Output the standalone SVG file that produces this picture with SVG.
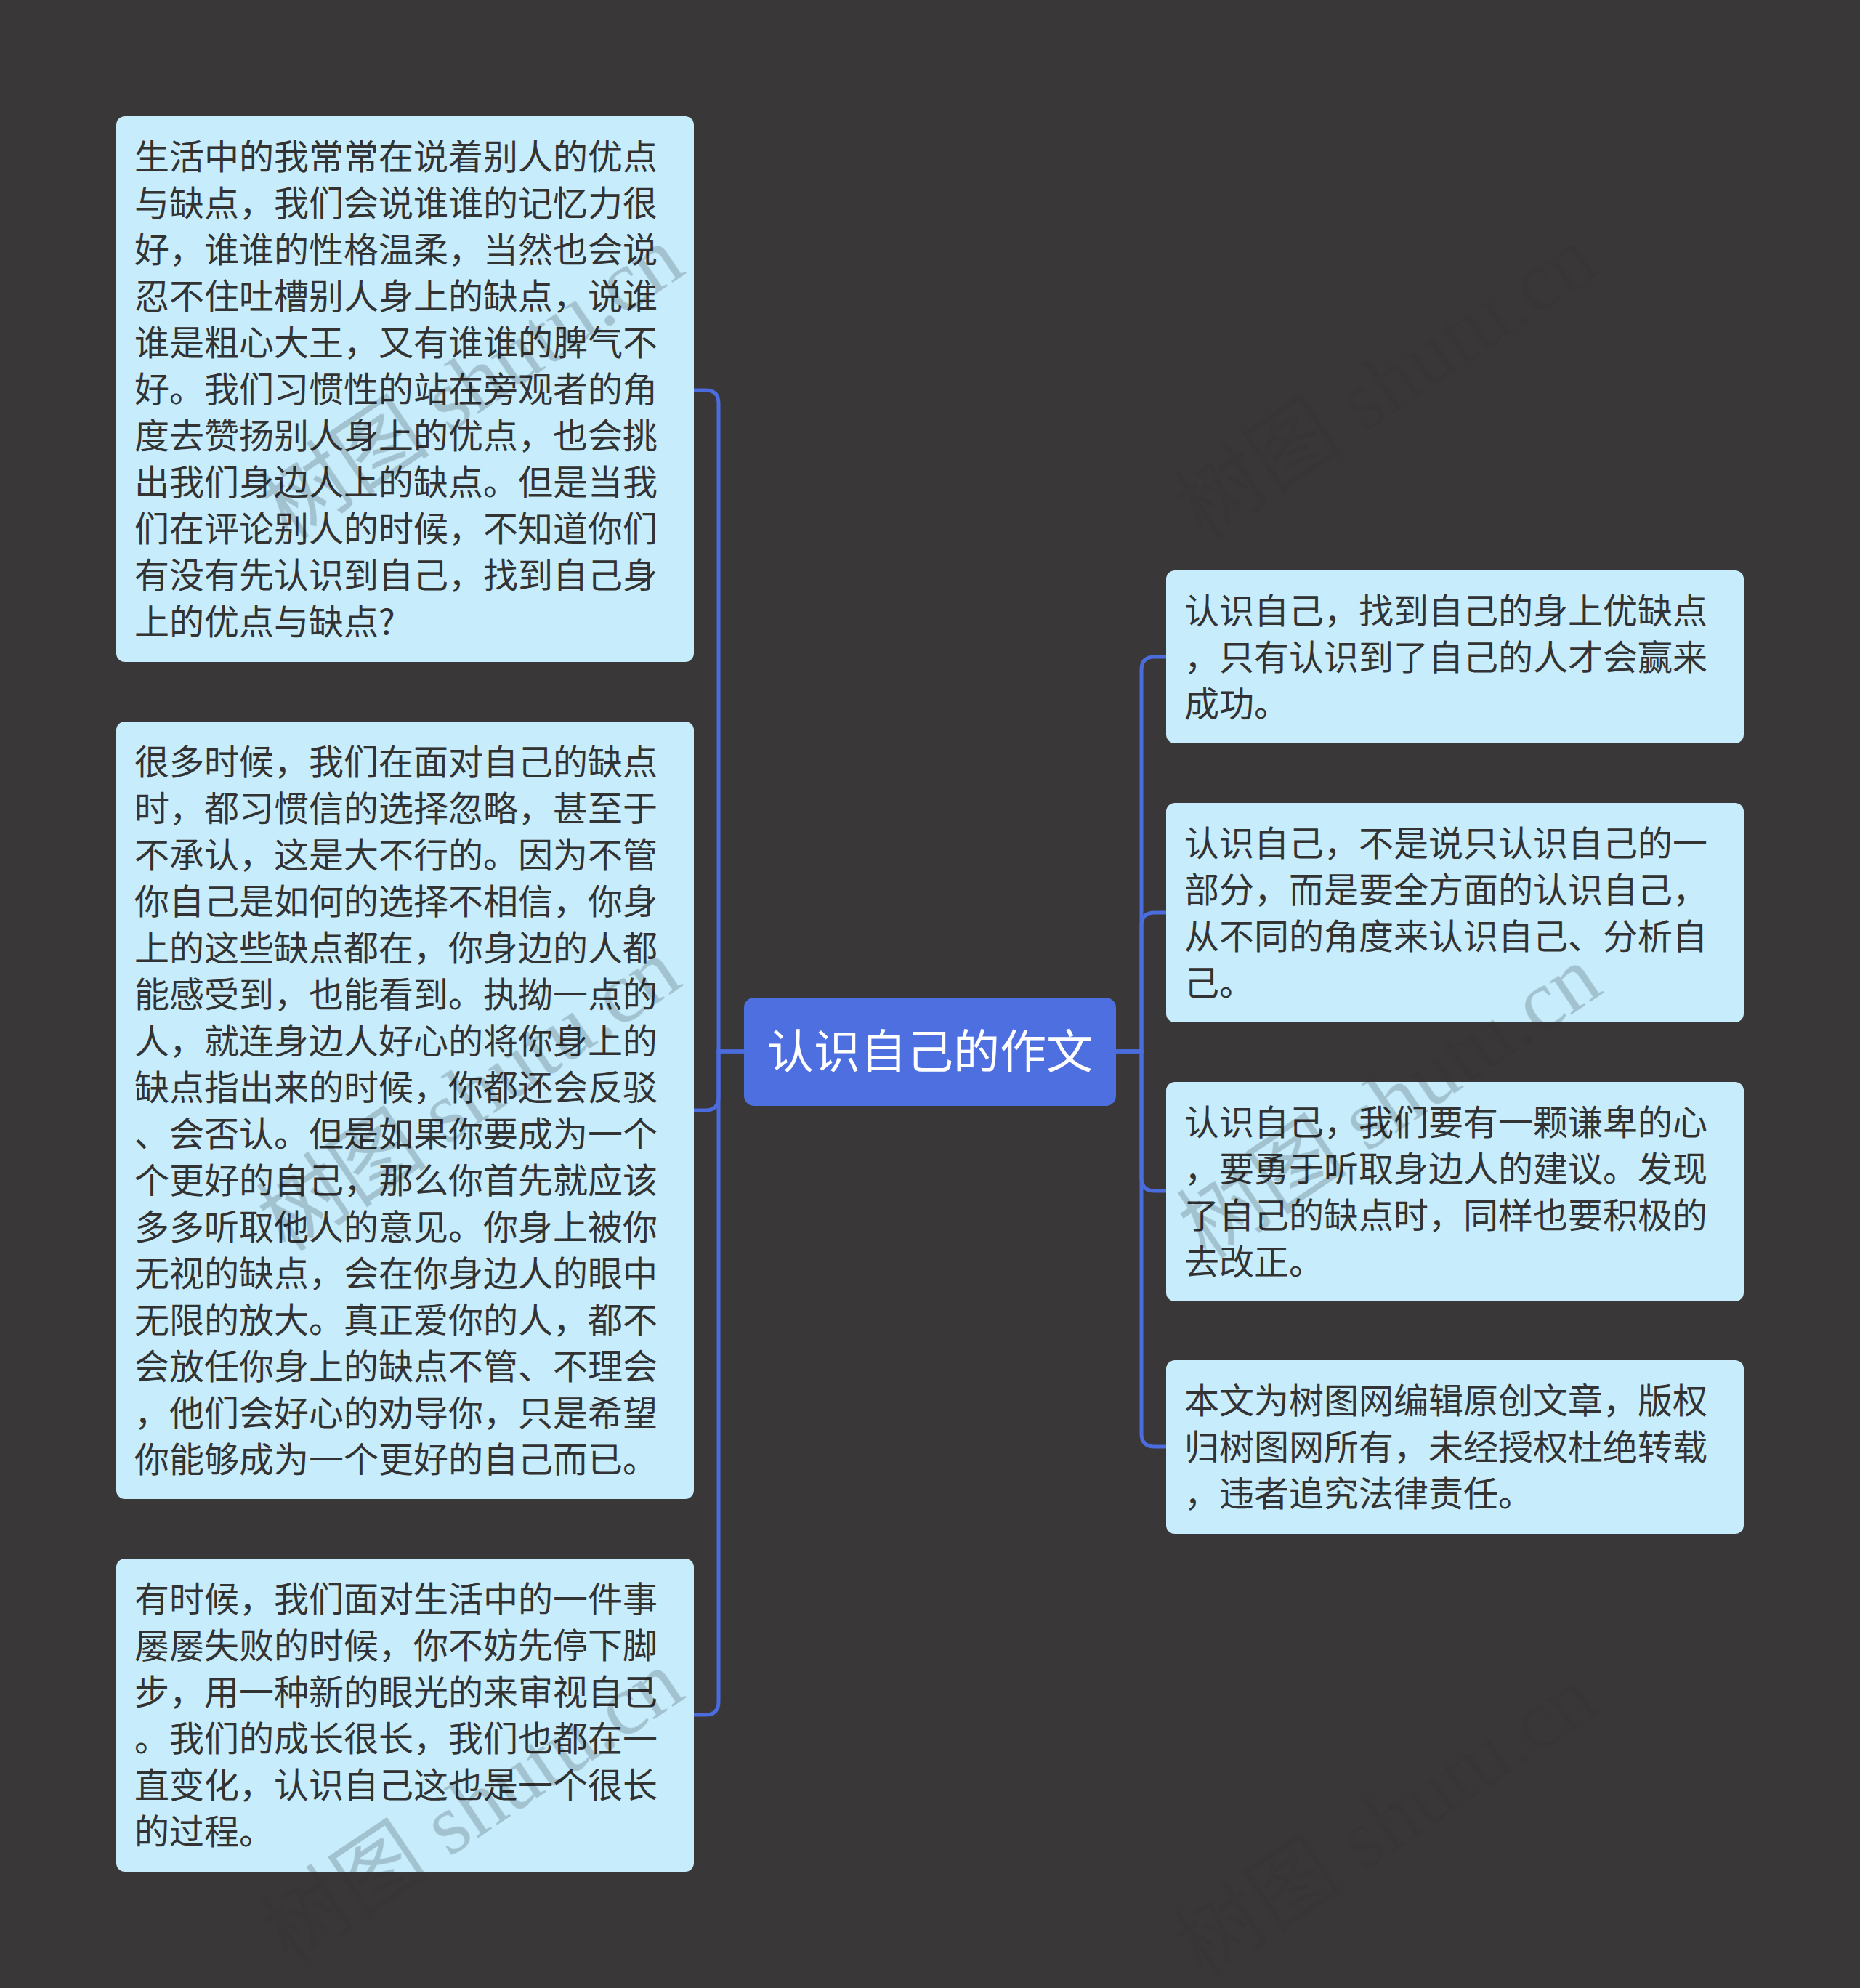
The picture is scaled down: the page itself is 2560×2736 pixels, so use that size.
<svg xmlns="http://www.w3.org/2000/svg" width="2560" height="2736" viewBox="0 0 2560 2736">
<defs>
<style>
.bg{fill:#393738}
.box{fill:#c7edfd}
.t{font-family:"Noto Sans CJK SC","Noto Sans",sans-serif;font-size:48px;fill:#333333}
.ct{font-family:"Noto Sans CJK SC","Noto Sans",sans-serif;font-size:64px;fill:#ffffff}
.cn{fill:#4e6fe0}
.ln{fill:none;stroke:#4a6cdd;stroke-width:5}
.wm{font-family:"Liberation Serif","Noto Sans CJK SC",serif;font-size:118px;fill:#000000;fill-opacity:0.16}
.wmd{font-family:"Liberation Serif","Noto Sans CJK SC",serif;font-size:118px;fill:#000000;fill-opacity:0.025}
</style>
<mask id="boxmask">
<rect x="0" y="0" width="2560" height="2736" fill="#000"/>
<rect x="160" y="160" width="795" height="751" rx="12" fill="#fff"/>
<rect x="160" y="993" width="795" height="1070" rx="12" fill="#fff"/>
<rect x="160" y="2145" width="795" height="431" rx="12" fill="#fff"/>
<rect x="1605" y="785" width="795" height="238" rx="12" fill="#fff"/>
<rect x="1605" y="1105" width="795" height="302" rx="12" fill="#fff"/>
<rect x="1605" y="1489" width="795" height="302" rx="12" fill="#fff"/>
<rect x="1605" y="1872" width="795" height="239" rx="12" fill="#fff"/>
</mask>
</defs>
<rect class="bg" x="0" y="0" width="2560" height="2736"/>

<g id="connectors">
<path class="ln" d="M1024,1447 H989 V555 Q989,537 971,537 H955"/>
<path class="ln" d="M1024,1447 H989 V1510 Q989,1528 971,1528 H955"/>
<path class="ln" d="M1024,1447 H989 V2342 Q989,2360 971,2360 H955"/>
<path class="ln" d="M1536,1447 H1571 V922 Q1571,904 1589,904 H1605"/>
<path class="ln" d="M1536,1447 H1571 V1274 Q1571,1256 1589,1256 H1605"/>
<path class="ln" d="M1536,1447 H1571 V1621 Q1571,1639 1589,1639 H1605"/>
<path class="ln" d="M1536,1447 H1571 V1973 Q1571,1991 1589,1991 H1605"/>
</g>

<g id="center">
<rect class="cn" x="1024" y="1373" width="512" height="149" rx="14"/>
<text class="ct" x="1280" y="1470" text-anchor="middle">认识自己的作文</text>
</g>

<g id="left1">
<rect class="box" x="160" y="160" width="795" height="751" rx="12"/>
<text class="t">
<tspan x="185" y="233">生活中的我常常在说着别人的优点</tspan>
<tspan x="185" y="297">与缺点，我们会说谁谁的记忆力很</tspan>
<tspan x="185" y="361">好，谁谁的性格温柔，当然也会说</tspan>
<tspan x="185" y="425">忍不住吐槽别人身上的缺点，说谁</tspan>
<tspan x="185" y="489">谁是粗心大王，又有谁谁的脾气不</tspan>
<tspan x="185" y="553">好。我们习惯性的站在旁观者的角</tspan>
<tspan x="185" y="617">度去赞扬别人身上的优点，也会挑</tspan>
<tspan x="185" y="681">出我们身边人上的缺点。但是当我</tspan>
<tspan x="185" y="745">们在评论别人的时候，不知道你们</tspan>
<tspan x="185" y="809">有没有先认识到自己，找到自己身</tspan>
<tspan x="185" y="873">上的优点与缺点?</tspan>
</text>
</g>

<g id="left2">
<rect class="box" x="160" y="993" width="795" height="1070" rx="12"/>
<text class="t">
<tspan x="185" y="1066">很多时候，我们在面对自己的缺点</tspan>
<tspan x="185" y="1130">时，都习惯信的选择忽略，甚至于</tspan>
<tspan x="185" y="1194">不承认，这是大不行的。因为不管</tspan>
<tspan x="185" y="1258">你自己是如何的选择不相信，你身</tspan>
<tspan x="185" y="1322">上的这些缺点都在，你身边的人都</tspan>
<tspan x="185" y="1386">能感受到，也能看到。执拗一点的</tspan>
<tspan x="185" y="1450">人，就连身边人好心的将你身上的</tspan>
<tspan x="185" y="1514">缺点指出来的时候，你都还会反驳</tspan>
<tspan x="185" y="1578">、会否认。但是如果你要成为一个</tspan>
<tspan x="185" y="1642">个更好的自己，那么你首先就应该</tspan>
<tspan x="185" y="1706">多多听取他人的意见。你身上被你</tspan>
<tspan x="185" y="1770">无视的缺点，会在你身边人的眼中</tspan>
<tspan x="185" y="1834">无限的放大。真正爱你的人，都不</tspan>
<tspan x="185" y="1898">会放任你身上的缺点不管、不理会</tspan>
<tspan x="185" y="1962">，他们会好心的劝导你，只是希望</tspan>
<tspan x="185" y="2026">你能够成为一个更好的自己而已。</tspan>
</text>
</g>

<g id="left3">
<rect class="box" x="160" y="2145" width="795" height="431" rx="12"/>
<text class="t">
<tspan x="185" y="2218">有时候，我们面对生活中的一件事</tspan>
<tspan x="185" y="2282">屡屡失败的时候，你不妨先停下脚</tspan>
<tspan x="185" y="2346">步，用一种新的眼光的来审视自己</tspan>
<tspan x="185" y="2410">。我们的成长很长，我们也都在一</tspan>
<tspan x="185" y="2474">直变化，认识自己这也是一个很长</tspan>
<tspan x="185" y="2538">的过程。</tspan>
</text>
</g>

<g id="right1">
<rect class="box" x="1605" y="785" width="795" height="238" rx="12"/>
<text class="t">
<tspan x="1630" y="858">认识自己，找到自己的身上优缺点</tspan>
<tspan x="1630" y="922">，只有认识到了自己的人才会赢来</tspan>
<tspan x="1630" y="986">成功。</tspan>
</text>
</g>

<g id="right2">
<rect class="box" x="1605" y="1105" width="795" height="302" rx="12"/>
<text class="t">
<tspan x="1630" y="1178">认识自己，不是说只认识自己的一</tspan>
<tspan x="1630" y="1242">部分，而是要全方面的认识自己，</tspan>
<tspan x="1630" y="1306">从不同的角度来认识自己、分析自</tspan>
<tspan x="1630" y="1370">己。</tspan>
</text>
</g>

<g id="right3">
<rect class="box" x="1605" y="1489" width="795" height="302" rx="12"/>
<text class="t">
<tspan x="1630" y="1562">认识自己，我们要有一颗谦卑的心</tspan>
<tspan x="1630" y="1626">，要勇于听取身边人的建议。发现</tspan>
<tspan x="1630" y="1690">了自己的缺点时，同样也要积极的</tspan>
<tspan x="1630" y="1754">去改正。</tspan>
</text>
</g>

<g id="right4">
<rect class="box" x="1605" y="1872" width="795" height="239" rx="12"/>
<text class="t">
<tspan x="1630" y="1945">本文为树图网编辑原创文章，版权</tspan>
<tspan x="1630" y="2009">归树图网所有，未经授权杜绝转载</tspan>
<tspan x="1630" y="2073">，违者追究法律责任。</tspan>
</text>
</g>

<g id="watermarks">
<g>
<text class="wmd" text-anchor="middle" transform="translate(672,560) rotate(-34)">树图 shutu.cn</text>
<text class="wmd" text-anchor="middle" transform="translate(668,1540) rotate(-34)">树图 shutu.cn</text>
<text class="wmd" text-anchor="middle" transform="translate(672,2520) rotate(-34)">树图 shutu.cn</text>
<text class="wmd" text-anchor="middle" transform="translate(1930,560) rotate(-34)">树图 shutu.cn</text>
<text class="wmd" text-anchor="middle" transform="translate(1935,1550) rotate(-34)">树图 shutu.cn</text>
<text class="wmd" text-anchor="middle" transform="translate(1930,2540) rotate(-34)">树图 shutu.cn</text>
</g>
<g mask="url(#boxmask)">
<text class="wm" text-anchor="middle" transform="translate(672,560) rotate(-34)">树图 shutu.cn</text>
<text class="wm" text-anchor="middle" transform="translate(668,1540) rotate(-34)">树图 shutu.cn</text>
<text class="wm" text-anchor="middle" transform="translate(672,2520) rotate(-34)">树图 shutu.cn</text>
<text class="wm" text-anchor="middle" transform="translate(1935,1550) rotate(-34)">树图 shutu.cn</text>
</g>
</g>
</svg>
